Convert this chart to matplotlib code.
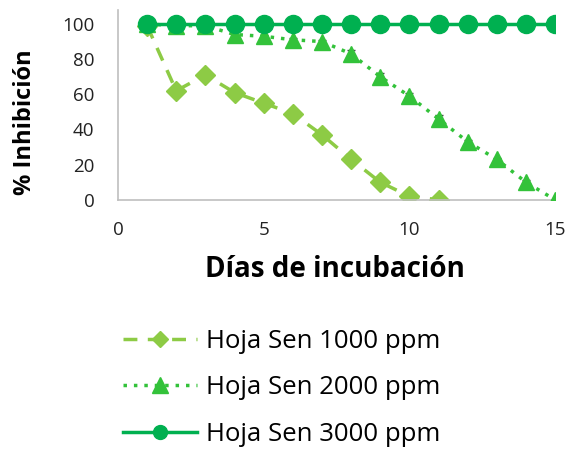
import matplotlib
matplotlib.use("Agg")
import matplotlib.pyplot as plt
from matplotlib.lines import Line2D

# Days of incubation and % inhibition per concentration
dias = [1, 2, 3, 4, 5, 6, 7, 8, 9, 10, 11, 12, 13, 14, 15]

dias_1000 = [1, 2, 3, 4, 5, 6, 7, 8, 9, 10, 11]
inh_1000 = [99, 62, 71, 61, 55, 49, 37, 23, 10, 2, 0]
err_1000 = [1, 2, 1, 1, 1.5, 1, 1.5, 1.5, 1, 2.5, 0]

inh_2000 = [100, 99, 99, 94, 93, 91, 90, 83, 70, 59, 46, 33, 23, 10, 0]
err_2000 = [0, 0, 0, 1.5, 1, 1, 1, 2, 2, 1.5, 2, 1, 1, 1.5, 0]

inh_3000 = [100] * 15

etiquetas = ["Hoja Sen 1000 ppm", "Hoja Sen 2000 ppm", "Hoja Sen 3000 ppm"]
colores = ["#8DCB45", "#33C23A", "#00B050"]
estilos = [(0, (4, 3)), (0, (1, 2)), "-"]
marcadores = ["D", "^", "o"]

plt.rcParams["font.family"] = ["Open Sans", "DejaVu Sans"]

fig = plt.figure(figsize=(5.67, 4.5), dpi=100)
ax = fig.add_axes([0.208, 0.556, 0.771, 0.422])

ax.errorbar(dias_1000, inh_1000, yerr=err_1000, color=colores[0], ecolor="#444444",
            elinewidth=0.8, capsize=3, linestyle=estilos[0], linewidth=2.5,
            marker=marcadores[0], markersize=10, zorder=2)
ax.errorbar(dias, inh_2000, yerr=err_2000, color=colores[1], ecolor="#444444",
            elinewidth=0.8, capsize=3, linestyle=estilos[1], linewidth=2.5,
            marker=marcadores[1], markersize=11, zorder=3)
ax.plot(dias, inh_3000, color=colores[2], linestyle=estilos[2], linewidth=2.5,
        marker=marcadores[2], markersize=13, zorder=4)

ax.set_xlim(0, 15)
ax.set_ylim(0, 108)
ax.set_xticks([0, 5, 10, 15])
ax.set_yticks([0, 20, 40, 60, 80, 100])
ax.tick_params(axis="both", length=0, labelsize=13.5, colors="#222222")
ax.tick_params(axis="y", pad=17)
ax.tick_params(axis="x", pad=15)
for s in ["top", "right"]:
    ax.spines[s].set_visible(False)
for s in ["left", "bottom"]:
    ax.spines[s].set_color("#BFBFBF")
    ax.spines[s].set_linewidth(1.2)
for lab in ax.get_xticklabels() + ax.get_yticklabels():
    lab.set_clip_on(False)

ax.set_xlabel("Días de incubación", fontsize=20, fontweight="bold")
ax.set_ylabel("% Inhibición", fontsize=17, fontweight="bold")
ax.xaxis.set_label_coords(0.497, -0.29)
ax.yaxis.set_label_coords(-0.185, 0.41)

tam_leyenda = [8, 11, 10]
manejadores = [Line2D([], [], color=c, linestyle=e, linewidth=2.5, marker=m, markersize=t)
               for c, e, m, t in zip(colores, estilos, marcadores, tam_leyenda)]
fig.legend(handles=manejadores, labels=etiquetas, loc="center",
           bbox_to_anchor=(0.497, 0.138), frameon=False, fontsize=18.5,
           handlelength=2.9, labelspacing=0.85, handletextpad=0.35,
           borderpad=0, borderaxespad=0)

fig.savefig("out.png", dpi=100)
